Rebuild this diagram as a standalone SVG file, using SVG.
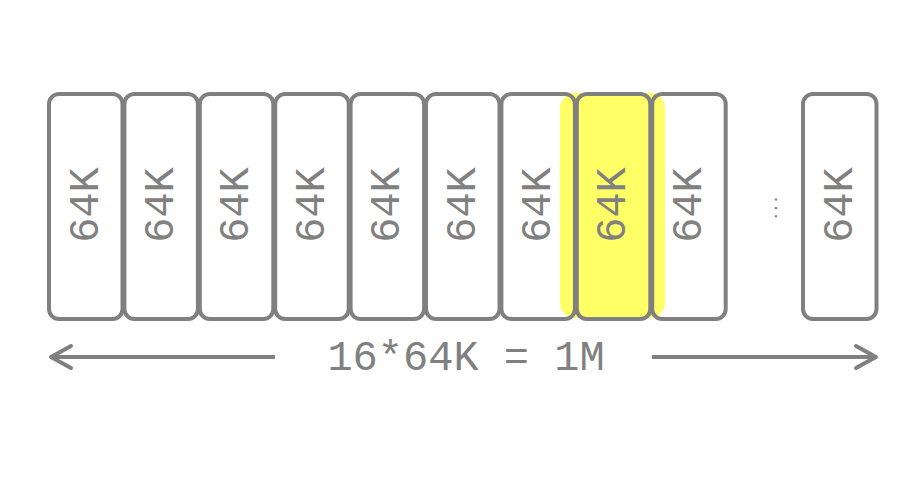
<svg xmlns="http://www.w3.org/2000/svg" width="920" height="490" viewBox="0 0 920 490">
<style>
.box{fill:none;stroke:#808080;stroke-width:4}
.lbl{font-family:"Liberation Mono","Courier New",monospace;font-size:42px;fill:#808080;text-anchor:middle}
.dots{font-family:"Liberation Mono","Courier New",monospace;font-size:14px;font-weight:bold;fill:#808080;text-anchor:middle}
.conn{stroke:#808080;stroke-width:4;fill:none}
</style>
<defs>
<marker id="head" markerUnits="userSpaceOnUse" markerWidth="30" markerHeight="30" viewBox="-25 -15 30 30" refX="0" refY="0" orient="auto-start-reverse">
<path d="M-20,-11 L0,0 L-20,11" fill="none" stroke="#808080" stroke-width="4" stroke-linecap="round" stroke-linejoin="round"/>
</marker>
</defs>
<rect x="560" y="93" width="105" height="225" rx="15" fill="#ffff66"/>
<g id="b0"><rect class="box" x="49" y="94" width="73.5" height="225" rx="10"/><text class="lbl" transform="translate(97.5,205) rotate(-90)">64K</text></g>
<g id="b1"><rect class="box" x="124.4" y="94" width="73.5" height="225" rx="10"/><text class="lbl" transform="translate(172.9,205) rotate(-90)">64K</text></g>
<g id="b2"><rect class="box" x="199.8" y="94" width="73.5" height="225" rx="10"/><text class="lbl" transform="translate(248.3,205) rotate(-90)">64K</text></g>
<g id="b3"><rect class="box" x="275.2" y="94" width="73.5" height="225" rx="10"/><text class="lbl" transform="translate(323.7,205) rotate(-90)">64K</text></g>
<g id="b4"><rect class="box" x="350.6" y="94" width="73.5" height="225" rx="10"/><text class="lbl" transform="translate(399.1,205) rotate(-90)">64K</text></g>
<g id="b5"><rect class="box" x="426" y="94" width="73.5" height="225" rx="10"/><text class="lbl" transform="translate(474.5,205) rotate(-90)">64K</text></g>
<g id="b6"><rect class="box" x="501.4" y="94" width="73.5" height="225" rx="10"/><text class="lbl" transform="translate(549.9,205) rotate(-90)">64K</text></g>
<g id="b7"><rect class="box" x="576.8" y="94" width="73.5" height="225" rx="10"/><text class="lbl" transform="translate(625.3,205) rotate(-90)">64K</text></g>
<g id="b8"><rect class="box" x="652.2" y="94" width="73.5" height="225" rx="10"/><text class="lbl" transform="translate(700.7,205) rotate(-90)">64K</text></g>
<g id="ellipsis"><text class="dots" transform="translate(777,208) rotate(-90)">...</text></g>
<g id="b10"><rect class="box" x="803" y="94" width="73.5" height="225" rx="10"/><text class="lbl" transform="translate(851.5,205) rotate(-90)">64K</text></g>
<g id="connectors">
<line class="conn" x1="275" y1="357" x2="51" y2="357" marker-end="url(#head)"/>
<line class="conn" x1="652" y1="357" x2="876" y2="357" marker-end="url(#head)"/>
</g>
<g id="total"><text class="lbl" x="466" y="370">16*64K = 1M</text></g>
</svg>
